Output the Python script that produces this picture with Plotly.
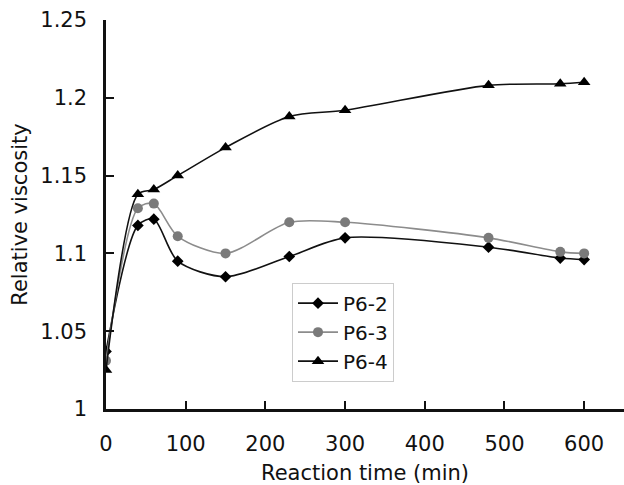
import plotly.graph_objects as go

time_min = [0, 40, 60, 90, 150, 230, 300, 480, 570, 600]
p6_2 = [1.037, 1.118, 1.122, 1.095, 1.085, 1.098, 1.110, 1.104, 1.097, 1.096]
p6_3 = [1.031, 1.129, 1.132, 1.111, 1.100, 1.120, 1.120, 1.110, 1.101, 1.100]
p6_4 = [1.025, 1.138, 1.141, 1.150, 1.168, 1.188, 1.192, 1.208, 1.209, 1.210]

x_ticks = [0, 100, 200, 300, 400, 500, 600]
y_ticks = [1.0, 1.05, 1.1, 1.15, 1.2, 1.25]
y_tick_text = ["1", "1.05", "1.1", "1.15", "1.2", "1.25"]

FONT = "DejaVu Sans"

fig = go.Figure()
fig.add_trace(go.Scatter(
    x=time_min, y=p6_2, name="P6-2", mode="lines+markers",
    line=dict(color="#111111", width=1.6, shape="spline", smoothing=0.8),
    marker=dict(symbol="diamond", size=9, color="#000000"),
))
fig.add_trace(go.Scatter(
    x=time_min, y=p6_3, name="P6-3", mode="lines+markers",
    line=dict(color="#8c8c8c", width=1.6, shape="spline", smoothing=0.8),
    marker=dict(symbol="circle", size=10, color="#7a7a7a"),
))
fig.add_trace(go.Scatter(
    x=time_min, y=p6_4, name="P6-4", mode="lines+markers",
    line=dict(color="#111111", width=1.6, shape="spline", smoothing=0.8),
    marker=dict(symbol="triangle-up", size=11, color="#000000"),
))

fig.update_layout(
    width=624, height=485,
    margin=dict(l=106, r=0, t=20, b=74),
    paper_bgcolor="white", plot_bgcolor="white",
    font=dict(family=FONT, size=21, color="#111111"),
    showlegend=True,
    legend=dict(
        x=(292 - 106) / 518, y=(411 - 284) / 391, xanchor="left", yanchor="top",
        bgcolor="white", bordercolor="#cccccc", borderwidth=1,
        font=dict(family=FONT, size=20, color="#111111"),
        tracegroupgap=0, itemwidth=40,
    ),
    xaxis=dict(
        range=[0, 650], tickvals=x_ticks, ticks="inside", ticklen=8,
        tickwidth=2, tickcolor="#111111",
        showline=True, linecolor="#111111", linewidth=2.5,
        showgrid=False, zeroline=False, ticklabelstandoff=14,
        title=dict(text="Reaction time (min)", font=dict(family=FONT, size=21), standoff=14),
    ),
    yaxis=dict(
        range=[1.0, 1.25], tickvals=y_ticks, ticktext=y_tick_text,
        ticks="inside", ticklen=8, tickwidth=2, tickcolor="#111111",
        showline=True, linecolor="#111111", linewidth=2.5,
        showgrid=False, zeroline=False, ticklabelstandoff=12,
        title=dict(text="Relative viscosity", font=dict(family=FONT, size=21), standoff=7),
    ),
)

fig.write_html("out.html")
